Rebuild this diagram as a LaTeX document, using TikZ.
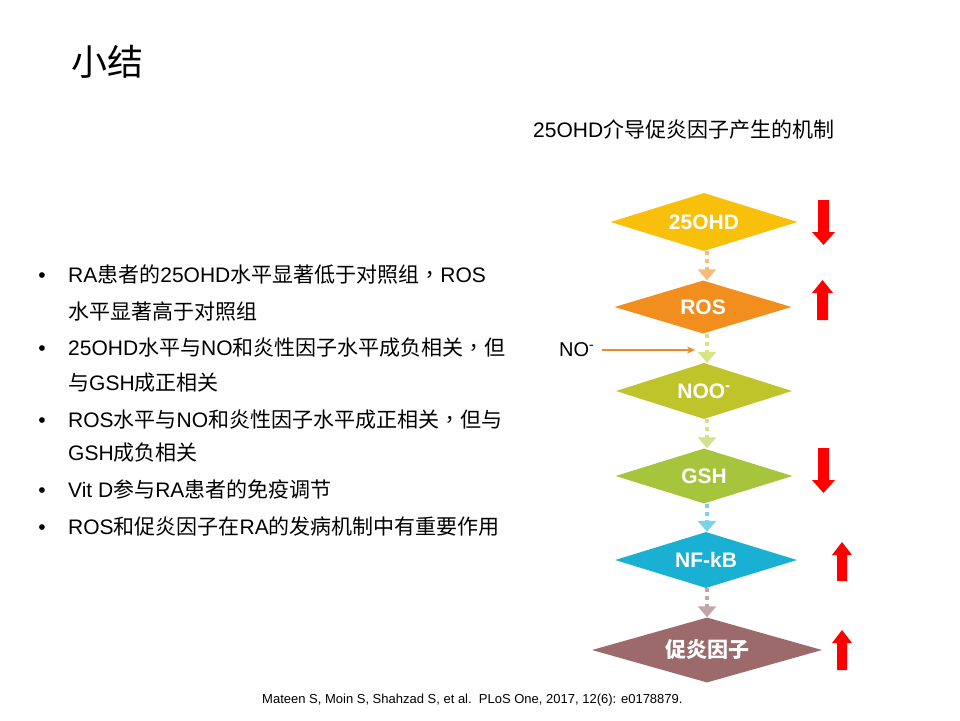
\documentclass[tikz,border=0pt]{standalone}
\usepackage{fontspec}
\setmainfont{Liberation Sans}
\newfontfamily\cjk{Noto Sans CJK SC}
\newfontfamily\cjktc{Noto Sans CJK TC}
\newcommand\zh[1]{{\cjk #1}}
\newcommand\zhcomma{{\cjktc ，}}
\usetikzlibrary{shapes.geometric,arrows.meta}
\definecolor{cA}{HTML}{F8C00A}
\definecolor{cB}{HTML}{F28E1E}
\definecolor{cC}{HTML}{BFC42B}
\definecolor{cD}{HTML}{A6C53C}
\definecolor{cE}{HTML}{1AB0D3}
\definecolor{cF}{HTML}{9C6A6A}
\definecolor{lA}{HTML}{F8BB7A}
\definecolor{lB}{HTML}{D9E382}
\definecolor{lC}{HTML}{D5E08C}
\definecolor{lD}{HTML}{7BD3EA}
\definecolor{lE}{HTML}{C3A5A5}
\definecolor{redarr}{HTML}{FF0000}
\definecolor{noarr}{HTML}{EE8A2E}
\tikzset{
  dia/.style={diamond, aspect=3.4, draw=none, inner sep=0pt, text=white,
    font=\fontsize{21}{24}\selectfont\bfseries},
  conn/.style={line width=4pt, dash pattern=on 4pt off 4pt, draw=#1,
    -{Triangle[width=18pt,length=11pt,fill=#1]}},
  textline/.style={anchor=base west, inner sep=0pt,
    font=\fontsize{21}{25}\selectfont},
  bul/.style={anchor=base, inner sep=0pt, font=\fontsize{21}{25}\selectfont},
  redblock/.style={fill=redarr, draw=none}
}
\begin{document}
\begin{tikzpicture}[x=1pt,y=-1pt]
\useasboundingbox (0,0) rectangle (960,720);
\fill[white] (0,0) rectangle (960,720);

% title
\node[anchor=center, inner sep=0pt, font=\fontsize{36}{42}\selectfont\cjk] (title) at (107,62) {小结};

% subtitle
\node[anchor=west, inner sep=0pt, font=\fontsize{21}{25}\selectfont] (sub) at (533,130) {25OHD\zh{介导促炎因子产生的机制}};

% bullet lines
\foreach \y/\n in {282/b1, 355/b2, 427/b3, 497/b4, 534/b5}{
  \node[bul] (\n) at (42,\y) {•};
}
\node[textline] (l1) at (68,282) {RA\zh{患者的}25OHD\zh{水平显著低于对照组}\zhcomma ROS};
\node[textline] (l2) at (68,319) {\zh{水平显著高于对照组}};
\node[textline] (l3) at (68,355) {25OHD\zh{水平与}NO\zh{和炎性因子水平成负相关}\zhcomma\zh{但}};
\node[textline] (l4) at (68,390) {\zh{与}GSH\zh{成正相关}};
\node[textline] (l5) at (68,427) {ROS\zh{水平与}NO\zh{和炎性因子水平成正相关}\zhcomma\zh{但与}};
\node[textline] (l6) at (68,460) {GSH\zh{成负相关}};
\node[textline] (l7) at (68,497) {Vit D\zh{参与}RA\zh{患者的免疫调节}};
\node[textline] (l8) at (68,534) {ROS\zh{和促炎因子在}RA\zh{的发病机制中有重要作用}};

% diamonds
\node[dia, fill=cA, minimum width=187pt, minimum height=58pt] (d1) at (704,222) {25OHD};
\node[dia, fill=cB, minimum width=177pt, minimum height=53pt] (d2) at (703,307) {ROS};
\node[dia, fill=cC, minimum width=176pt, minimum height=56pt] (d3) at (704,391) {NOO\textsuperscript{-}};
\node[dia, fill=cD, minimum width=177pt, minimum height=55pt] (d4) at (704,476) {GSH};
\node[dia, fill=cE, minimum width=182pt, minimum height=56pt] (d5) at (706,560) {NF-kB};
\node[dia, fill=cF, minimum width=230pt, minimum height=65pt, aspect=3.5,
      font=\fontsize{21}{24}\selectfont\cjk\bfseries] (d6) at (707,650) {促炎因子};

% connectors
\draw[conn=lA] ([xshift=3pt]d1.south) -- ([xshift=4pt]d2.north);
\draw[conn=lB] ([xshift=4pt]d2.south) -- ([xshift=3pt]d3.north);
\draw[conn=lC] ([xshift=3pt]d3.south) -- ([xshift=3pt]d4.north);
\draw[conn=lD] ([xshift=3pt]d4.south) -- ([xshift=1pt]d5.north);
\draw[conn=lE] ([xshift=1pt]d5.south) -- ([xshift=0pt]d6.north);

% NO- input
\node[anchor=west, inner sep=0pt, font=\fontsize{20}{24}\selectfont] (no) at (559,350) {NO\textsuperscript{-}};
\coordinate (noend) at (695,350);
\draw[noarr, line width=2pt, -{Stealth[length=8pt,width=7pt]}, shorten <=7pt] (no.east) -- (noend);

% red block arrows
\fill[redblock] (818,200) -- (829,200) -- (829,232) -- (835,232) -- (823.5,245) -- (812,232) -- (818,232) -- cycle;
\fill[redblock] (822.5,280) -- (833,293) -- (828,293) -- (828,320) -- (817,320) -- (817,293) -- (812,293) -- cycle;
\fill[redblock] (818,448) -- (829,448) -- (829,480) -- (835,480) -- (823.5,493) -- (812,480) -- (818,480) -- cycle;
\fill[redblock] (842,542) -- (852,555) -- (847,555) -- (847,581) -- (837,581) -- (837,555) -- (832,555) -- cycle;
\fill[redblock] (842,630) -- (852,643) -- (847,643) -- (847,670) -- (837,670) -- (837,643) -- (832,643) -- cycle;

% citation
\node[anchor=west, inner sep=0pt, font=\fontsize{13}{15}\selectfont] (cite) at (262,700) {Mateen S, Moin S, Shahzad S, et al.\ \ PLoS One, 2017, 12(6): e0178879.};
\end{tikzpicture}
\end{document}
